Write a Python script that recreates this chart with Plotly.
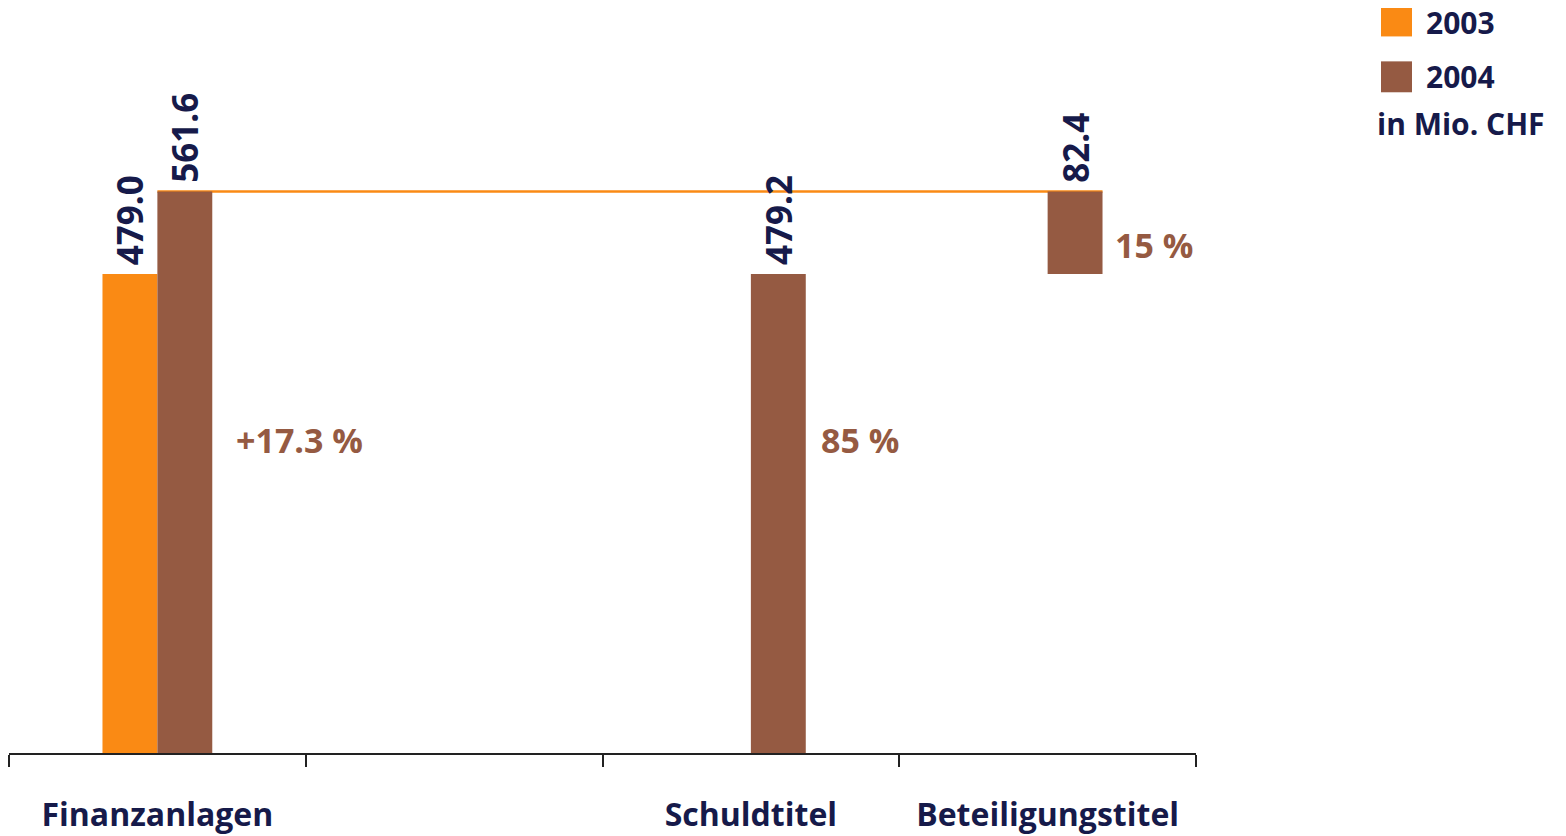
import plotly.graph_objects as go

# ---- data ----
categories = ["Finanzanlagen", " ", "Schuldtitel", "Beteiligungstitel"]
values_2003 = [479.0, None, None, None]
values_2004 = [561.6, None, 479.2, 82.4]
base_2004 = [0, None, 0, 479.2]
labels_2003 = ["479.0", "", "", ""]
labels_2004 = ["561.6", "", "479.2", "82.4"]
total_2004 = 561.6
pct_labels = ["+17.3 %", "85 %", "15 %"]
pct_categories = ["Finanzanlagen", "Schuldtitel", "Beteiligungstitel"]
pct_y = [313, 313, 508]
series_names = ["2003", "2004"]
unit_label = "in Mio. CHF"

# ---- style ----
ORANGE = "#FA8A14"
BROWN = "#955A42"
NAVY = "#161A4A"
FONT = "Open Sans"
pct_xshift = [22, 13, 10]

OFF = 8  # page body offset
W, H = 1566 - OFF, 836 - OFF
margin = dict(l=1, r=370, t=2, b=81)
plot_w = W - margin["l"] - margin["r"]
plot_h = H - margin["t"] - margin["b"]
px_per_unit = 563 / total_2004
y_top = plot_h / px_per_unit

bargap = 0.63
bar_w = (1 - bargap) / 2


def px_x(px):
    return (px - OFF - margin["l"]) / plot_w


def px_y(py):
    return 1 - (py - OFF - margin["t"]) / plot_h


value_font = dict(family=FONT, size=35, color=NAVY, weight=700)

fig = go.Figure()
fig.add_trace(go.Bar(
    x=categories, y=values_2003, name=series_names[0],
    marker=dict(color=ORANGE, line=dict(width=0)),
    text=labels_2003, texttemplate="\u2009%{text}",
    textposition="outside", textangle=-90, textfont=value_font,
    constraintext="none", cliponaxis=False, showlegend=False,
))
fig.add_trace(go.Bar(
    x=categories, y=values_2004, base=base_2004, name=series_names[1],
    marker=dict(color=BROWN, line=dict(width=0)),
    text=labels_2004, texttemplate="\u2009%{text}",
    textposition="outside", textangle=-90, textfont=value_font,
    constraintext="none", cliponaxis=False, showlegend=False,
))

# connector line at the 2004 total
fig.add_shape(type="line", xref="x", yref="y",
              x0=categories.index("Finanzanlagen"),
              x1=categories.index("Beteiligungstitel") + bar_w,
              y0=total_2004, y1=total_2004,
              line=dict(color=ORANGE, width=2.5), layer="below")

# percentage annotations
for lab, cat, yy, xs in zip(pct_labels, pct_categories, pct_y, pct_xshift):
    fig.add_annotation(x=categories.index(cat) + bar_w, y=yy, xref="x", yref="y",
                       text=lab, showarrow=False, xanchor="left", yanchor="middle",
                       xshift=xs,
                       font=dict(family=FONT, size=34, color=BROWN, weight=700))

# custom legend
legend_colors = [ORANGE, BROWN]
legend_box_y = [21, 77]
legend_text_y = [23, 77]
for name, col, by, ty in zip(series_names, legend_colors, legend_box_y, legend_text_y):
    fig.add_shape(type="rect", xref="paper", yref="paper",
                  x0=px_x(1381), x1=px_x(1412),
                  y0=px_y(by + 15.5), y1=px_y(by - 15.5),
                  fillcolor=col, line=dict(width=0))
    fig.add_annotation(xref="paper", yref="paper",
                       x=px_x(1424), y=px_y(ty),
                       text=name, showarrow=False, xanchor="left", yanchor="middle",
                       font=dict(family=FONT, size=30, color=NAVY, weight=700))
fig.add_annotation(xref="paper", yref="paper",
                   x=px_x(1375), y=px_y(124),
                   text=unit_label, showarrow=False, xanchor="left", yanchor="middle",
                   font=dict(family=FONT, size=30, color=NAVY, weight=700))

fig.update_layout(
    width=W, height=H, margin=margin,
    barmode="group", bargap=bargap, bargroupgap=0,
    plot_bgcolor="white", paper_bgcolor="white",
    showlegend=False,
    xaxis=dict(type="category", categoryorder="array", categoryarray=categories,
               showline=True, linecolor="#222222", linewidth=1.5,
               ticks="outside", ticklen=12, tickwidth=1.5, tickcolor="#222222",
               tickson="boundaries", showgrid=False, ticklabelstandoff=33,
               tickfont=dict(family=FONT, size=32, color=NAVY, weight=700)),
    yaxis=dict(range=[0, y_top], visible=False, showgrid=False, zeroline=False),
)

fig.write_html("out.html", config={"displayModeBar": False})
